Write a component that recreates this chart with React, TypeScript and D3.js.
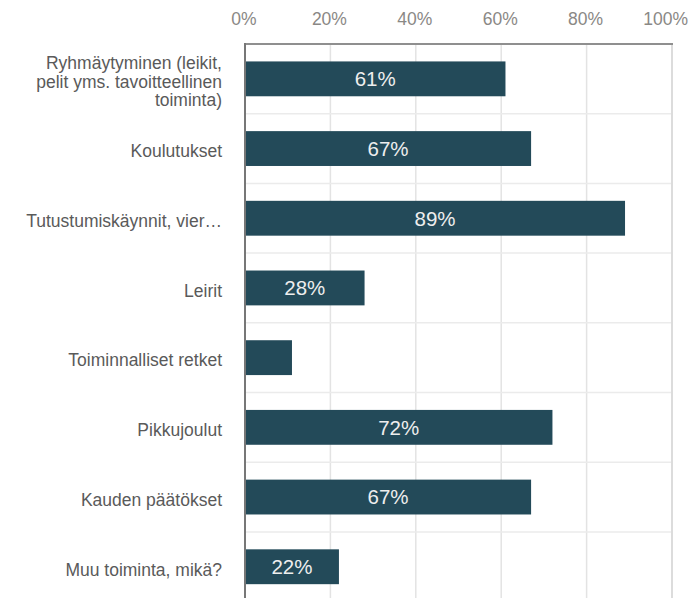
import React from "react";
import * as d3 from "d3";

const categories: string[][] = [
  ["Ryhmäytyminen (leikit,", "pelit yms. tavoitteellinen", "toiminta)"],
  ["Koulutukset"],
  ["Tutustumiskäynnit, vier…"],
  ["Leirit"],
  ["Toiminnalliset retket"],
  ["Pikkujoulut"],
  ["Kauden päätökset"],
  ["Muu toiminta, mikä?"],
];
const values: number[] = [61, 67, 89, 28, 11, 72, 67, 22];
const ticks: number[] = [0, 20, 40, 60, 80, 100];

const W = 689;
const H = 598;
const left = 245;
const right = 672;
const top = 44;
const band = 69.7;

export default function App() {
  const x = d3.scaleLinear().domain([0, 100]).range([left, right]);
  const idx = categories.map((_, i) => String(i));
  const y = d3
    .scaleBand<string>()
    .domain(idx)
    .range([top, top + band * categories.length])
    .paddingInner(0.5)
    .paddingOuter(0.25);
  const font = "'Liberation Sans', Arial, sans-serif";
  return (
    <svg
      width={W}
      height={H}
      style={{ position: "absolute", left: 0, top: 0, background: "#fff" }}
      fontFamily={font}
    >
      {/* vertical gridlines */}
      {ticks.slice(1).map((t) => (
        <line key={"g" + t} x1={x(t)} x2={x(t)} y1={top} y2={H} stroke="#e3e3e3" strokeWidth={1.5} />
      ))}
      {/* horizontal band separators */}
      {idx.slice(1).map((k) => (
        <line
          key={"h" + k}
          x1={left}
          x2={right}
          y1={top + band * +k}
          y2={top + band * +k}
          stroke="#ebebeb"
          strokeWidth={1.5}
        />
      ))}
      {/* tick labels */}
      {ticks.map((t, i) => (
        <text
          key={"t" + t}
          x={i === ticks.length - 1 ? 688 : x(t) - 1}
          y={25}
          textAnchor={i === ticks.length - 1 ? "end" : "middle"}
          fontSize={17.5}
          fill="#8a8885"
        >
          {t}%
        </text>
      ))}
      {/* bars */}
      {values.map((v, i) => (
        <rect
          key={"b" + i}
          x={x(0)}
          y={y(String(i))}
          width={x(v) - x(0)}
          height={y.bandwidth()}
          fill="#234a59"
        />
      ))}
      {/* bar labels */}
      {values.map((v, i) =>
        v >= 15 ? (
          <text
            key={"v" + i}
            x={(x(0) + x(v)) / 2}
            y={(y(String(i)) as number) + y.bandwidth() / 2}
            dy="0.36em"
            textAnchor="middle"
            fontSize={20.5}
            fill="#eeeeee"
          >
            {v}%
          </text>
        ) : null
      )}
      {/* category labels */}
      {categories.map((lines, i) => {
        const cy = (y(String(i)) as number) + y.bandwidth() / 2;
        const lh = 18.5;
        const start = cy - ((lines.length - 1) * lh) / 2;
        return (
          <text key={"c" + i} x={222} textAnchor="end" fontSize={17.5} fill="#5a5a5a">
            {lines.map((l, j) => (
              <tspan key={j} x={222} y={start + j * lh} dy="0.5em">
                {l}
              </tspan>
            ))}
          </text>
        );
      })}
      {/* frame */}
      <line x1={right} x2={right} y1={top} y2={H} stroke="#dcdcdc" strokeWidth={2} />
      <line x1={left - 1} x2={right + 1} y1={top} y2={top} stroke="#8f8f8f" strokeWidth={2} />
      <line x1={left} x2={left} y1={top - 1} y2={H} stroke="#777" strokeWidth={2} />
    </svg>
  );
}
